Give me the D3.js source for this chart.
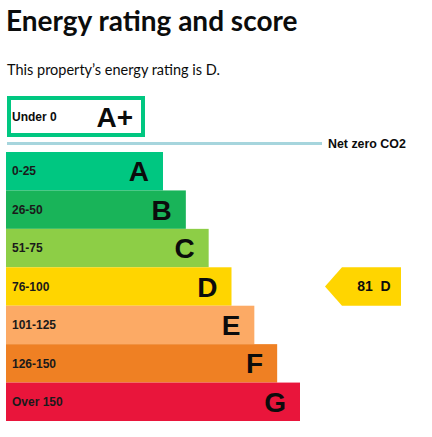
<!DOCTYPE html>
<html>
<head>
<meta charset="utf-8">
<script src="https://cdn.jsdelivr.net/npm/d3@7"></script>
<style>
  html, body { margin: 0; padding: 0; background: #fff; }
  svg { display: block; }
</style>
</head>
<body>
<div id="chart"></div>
<script>
// ---- data ----
const bands = ["A", "B", "C", "D", "E", "F", "G"];
const ranges = ["0-25", "26-50", "51-75", "76-100", "101-125", "126-150", "Over 150"];
const colors = ["#00c781", "#19b459", "#8dce46", "#ffd500", "#fcaa65", "#ef8023", "#e9153b"];
const bandRank = [1, 2, 3, 4, 5, 6, 7];
const topBand = { label: "A+", range: "Under 0", color: "#00c781" };
const currentScore = 81;
const currentRating = "D";
const title = "Energy rating and score";
const subtitle = "This property\u2019s energy rating is D.";
const netZeroLabel = "Net zero CO2";

// ---- layout ----
const W = 432, H = 437;
const svg = d3.select("#chart").append("svg").attr("width", W).attr("height", H);

const y = d3.scaleBand().domain(bands).range([152, 421]).padding(0);
const xEnd = d3.scaleLinear().domain([1, 7]).range([163, 300]);
const x0 = 6;
const fontSans = "Liberation Sans, Arial, sans-serif";

svg.append("text").attr("x", 6).attr("y", 31)
  .attr("font-family", "Lato, sans-serif").attr("font-weight", 700).attr("font-size", 28)
  .attr("fill", "#0b0c0c").text(title);

svg.append("text").attr("x", 7).attr("y", 75)
  .attr("font-family", "Lato, sans-serif").attr("font-size", 14.5)
  .attr("fill", "#0b0c0c").text(subtitle);

// A+ box
svg.append("rect").attr("x", 9).attr("y", 98).attr("width", 134).attr("height", 37)
  .attr("fill", "#fff").attr("stroke", topBand.color).attr("stroke-width", 4);
svg.append("text").attr("x", 12).attr("y", 117).attr("dy", "0.35em")
  .attr("font-family", fontSans).attr("font-weight", 700).attr("font-size", 12)
  .attr("fill", "#0b0c0c").text(topBand.range);
svg.append("text").attr("x", 133).attr("y", 117).attr("dy", "0.35em")
  .attr("text-anchor", "end")
  .attr("font-family", fontSans).attr("font-weight", 700).attr("font-size", 28)
  .attr("fill", "#0b0c0c").text(topBand.label);

// Net zero line
svg.append("line").attr("x1", 7).attr("x2", 322).attr("y1", 143.5).attr("y2", 143.5)
  .attr("stroke", "#a6d5dd").attr("stroke-width", 3);
svg.append("text").attr("x", 328).attr("y", 144).attr("dy", "0.35em")
  .attr("font-family", fontSans).attr("font-weight", 700).attr("font-size", 12.4)
  .attr("fill", "#0b0c0c").text(netZeroLabel);

// bars
const rows = bands.map((b, i) => ({ band: b, range: ranges[i], color: colors[i], rank: bandRank[i] }));
const g = svg.append("g");
g.selectAll("rect.bar").data(rows).join("rect").attr("class", "bar")
  .attr("x", x0).attr("y", d => y(d.band))
  .attr("width", d => xEnd(d.rank) - x0).attr("height", y.bandwidth())
  .attr("fill", d => d.color);
g.selectAll("text.range").data(rows).join("text").attr("class", "range")
  .attr("x", 12).attr("y", d => y(d.band) + y.bandwidth() / 2).attr("dy", "0.35em")
  .attr("font-family", fontSans).attr("font-weight", 700).attr("font-size", 12)
  .attr("fill", "#1a1a1a").text(d => d.range);
g.selectAll("text.letter").data(rows).join("text").attr("class", "letter")
  .attr("x", d => xEnd(d.rank) - 14).attr("y", d => y(d.band) + y.bandwidth() / 2).attr("dy", "0.36em")
  .attr("text-anchor", "end")
  .attr("font-family", fontSans).attr("font-weight", 700).attr("font-size", 28)
  .attr("fill", "#0b0c0c").text(d => d.band);

// score arrow
const ci = bands.indexOf(currentRating);
const ay = y(currentRating), ah = y.bandwidth();
const tipX = 325, bodyX = 342, rightX = 401;
const arrowPath = d3.path();
arrowPath.moveTo(tipX, ay + ah / 2);
arrowPath.lineTo(bodyX, ay);
arrowPath.lineTo(rightX, ay);
arrowPath.lineTo(rightX, ay + ah);
arrowPath.lineTo(bodyX, ay + ah);
arrowPath.closePath();
svg.append("path").attr("d", arrowPath.toString()).attr("fill", colors[ci]);
svg.append("text").attr("x", 374).attr("y", ay + ah / 2).attr("dy", "0.35em")
  .attr("text-anchor", "middle")
  .attr("font-family", fontSans).attr("font-weight", 700).attr("font-size", 14)
  .attr("fill", "#0b0c0c").attr("xml:space", "preserve").text(currentScore + "  " + currentRating);
</script>
</body>
</html>
